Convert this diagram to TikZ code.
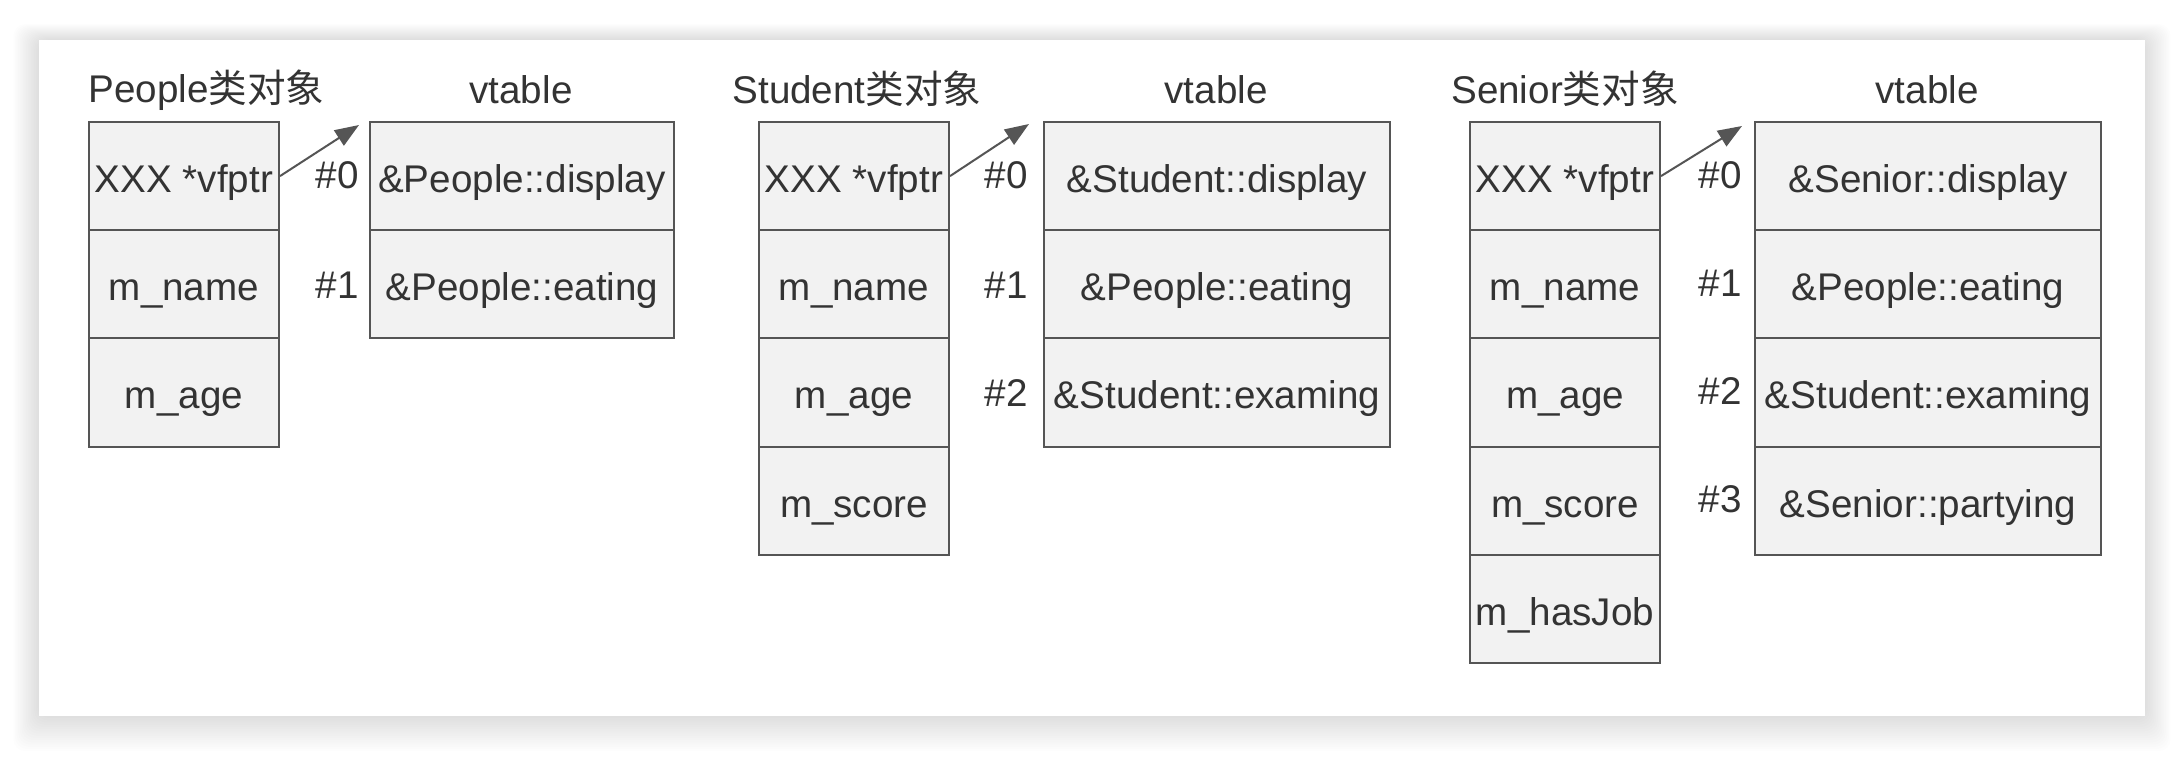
\documentclass[tikz,border=0pt]{standalone}
\usepackage{fontspec}
\setmainfont{Liberation Sans}
\newfontfamily\cjk{Noto Sans CJK SC}
\usetikzlibrary{arrows.meta,calc}
\definecolor{boxline}{HTML}{555555}
\definecolor{boxfill}{HTML}{F2F2F2}
\definecolor{txt}{HTML}{333333}
\newcommand{\cellfnt}{\fontsize{19.3}{23}\selectfont}
\tikzset{
  cellbox/.style={draw=boxline, fill=boxfill, line width=1pt, inner sep=0pt,
    font=\cellfnt, text=txt, anchor=north west, minimum height=54.1pt,
    text height=17pt, text depth=0.6pt},
  objcol/.style={cellbox, minimum width=95pt},
  vtcol/.style={cellbox, minimum width=173pt},
  idxlab/.style={font=\cellfnt, text=txt, anchor=base east, inner sep=0pt},
  titlelab/.style={font=\cellfnt, text=txt, inner sep=0pt, anchor=base},
  ptrarrow/.style={draw=boxline, line width=1pt, -{Triangle[length=12pt,width=9pt]}},
}
\begin{document}
\begin{tikzpicture}[x=0.5pt,y=-0.5pt]
\useasboundingbox (0,0) rectangle (2184,756);
\fill[white] (0,0) rectangle (2184,756);
% soft shadow
\foreach \i in {1,...,16}{
  \fill[black,opacity=0.009,rounded corners=6pt] (39-1.6*\i,40-1.0*\i) rectangle (2145+1.6*\i,716+2.2*\i);
}
\fill[white] (39,40) rectangle (2145,716);

% ---------- People ----------
\node[titlelab, anchor=base west] (ptitle) at (88,102) {People{\cjk 类对象}};
\node[objcol] (p0) at (88,121) {XXX *vfptr};
\node[objcol] (p1) at (88,229.2) {m\_name};
\node[objcol] (p2) at (88,337.4) {m\_age};
\node[cellbox, minimum width=152pt] (pv0) at (369,121) {\&People::display};
\node[cellbox, minimum width=152pt] (pv1) at (369,229.2) {\&People::eating};
\node[titlelab] (pvt) at (521,103) {vtable};
\node[idxlab] (pi0) at ($(pv0.west)+(-10,12)$) {\#0};
\node[idxlab] (pi1) at ($(pv1.west)+(-10,14)$) {\#1};
\coordinate (pa) at ($(pv0.north west)+(-10,4)$);
\draw[ptrarrow] (p0.east) -- (pa);

% ---------- Student ----------
\node[titlelab] (stitle) at (857,103) {Student{\cjk 类对象}};
\node[objcol] (s0) at (758,121) {XXX *vfptr};
\node[objcol] (s1) at (758,229.2) {m\_name};
\node[objcol] (s2) at (758,337.4) {m\_age};
\node[objcol] (s3) at (758,445.6) {m\_score};
\node[vtcol] (sv0) at (1043,121) {\&Student::display};
\node[vtcol] (sv1) at (1043,229.2) {\&People::eating};
\node[vtcol] (sv2) at (1043,337.4) {\&Student::examing};
\node[titlelab] (svt) at (1216,103) {vtable};
\node[idxlab] (si0) at ($(sv0.west)+(-15,12)$) {\#0};
\node[idxlab] (si1) at ($(sv1.west)+(-15,14)$) {\#1};
\node[idxlab] (si2) at ($(sv2.west)+(-15,14)$) {\#2};
\coordinate (sa) at ($(sv0.north west)+(-14,3)$);
\draw[ptrarrow] (s0.east) -- (sa);

% ---------- Senior ----------
\node[titlelab] (ntitle) at (1565,103) {Senior{\cjk 类对象}};
\node[objcol] (n0) at (1469,121) {XXX *vfptr};
\node[objcol] (n1) at (1469,229.2) {m\_name};
\node[objcol] (n2) at (1469,337.4) {m\_age};
\node[objcol] (n3) at (1469,445.6) {m\_score};
\node[objcol] (n4) at (1469,553.8) {m\_hasJob};
\node[vtcol] (nv0) at (1754,121) {\&Senior::display};
\node[vtcol] (nv1) at (1754,229.2) {\&People::eating};
\node[vtcol] (nv2) at (1754,337.4) {\&Student::examing};
\node[vtcol] (nv3) at (1754,445.6) {\&Senior::partying};
\node[titlelab] (nvt) at (1927,103) {vtable};
\node[idxlab] (ni0) at ($(nv0.west)+(-12,12)$) {\#0};
\node[idxlab] (ni1) at ($(nv1.west)+(-12,12)$) {\#1};
\node[idxlab] (ni2) at ($(nv2.west)+(-12,12)$) {\#2};
\node[idxlab] (ni3) at ($(nv3.west)+(-12,12)$) {\#3};
\coordinate (na) at ($(nv0.north west)+(-12,5)$);
\draw[ptrarrow] (n0.east) -- (na);
\end{tikzpicture}
\end{document}
